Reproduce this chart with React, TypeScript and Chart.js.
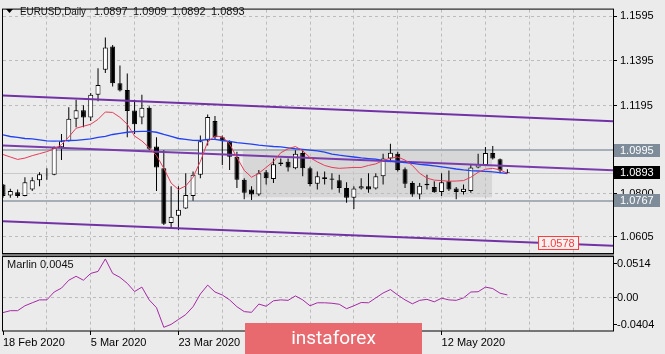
import React, { useEffect, useRef } from 'react';
import { Chart, registerables } from 'chart.js';
Chart.register(...registerables);

const TITLE_SYMBOL = 'EURUSD,Daily';
const TITLE_VALUES = ['1.0897', '1.0909', '1.0892', '1.0893'];
const INDICATOR_LABEL = 'Marlin 0.0045';
const LOGO_TEXT = 'instaforex';

const OPEN = [1.0840,1.0791,1.0806,1.0789,1.0818,1.0859,1.0884,1.0884,1.1008,1.1035,1.1136,1.1174,1.1141,1.1243,1.1356,1.1460,1.1295,1.1265,1.1173,1.1141,1.1185,1.1011,1.0913,1.0667,1.0700,1.0733,1.0789,1.0884,1.1038,1.1126,1.1053,1.1035,1.0965,1.0862,1.0818,1.0796,1.0895,1.0865,1.0939,1.0943,1.0913,1.0982,1.0913,1.0844,1.0873,1.0867,1.0859,1.0825,1.0781,1.0822,1.0833,1.0822,1.0877,1.0957,1.0979,1.0909,1.0847,1.0796,1.0844,1.0829,1.0807,1.0855,1.0822,1.0807,1.0811,1.0917,1.0928,1.0982,1.0954,1.0897];
const HIGH = [1.0843,1.0821,1.0818,1.0873,1.0873,1.0895,1.0913,1.1011,1.1067,1.1187,1.1221,1.1196,1.1251,1.1363,1.1500,1.1467,1.1375,1.1339,1.1221,1.1243,1.1192,1.1053,1.0994,1.0833,1.0833,1.0891,1.0899,1.1060,1.1155,1.1148,1.1060,1.1038,1.0987,1.0869,1.0833,1.0906,1.0906,1.0957,1.0957,1.0957,1.0994,1.0994,1.0920,1.0899,1.0899,1.0891,1.0884,1.0850,1.0833,1.0869,1.0891,1.0891,1.0979,1.1023,1.0987,1.0917,1.0855,1.0847,1.0884,1.0855,1.0891,1.0903,1.0829,1.0840,1.0928,1.0979,1.1009,1.1013,1.0957,1.0909];
const LOW = [1.0781,1.0781,1.0781,1.0788,1.0811,1.0833,1.0862,1.0882,1.0950,1.1034,1.1097,1.1097,1.1126,1.1214,1.1341,1.1280,1.1258,1.1053,1.1067,1.1111,1.0994,1.0811,1.0659,1.0642,1.0635,1.0730,1.0767,1.0869,1.1016,1.1045,1.0928,1.0906,1.0825,1.0774,1.0771,1.0789,1.0840,1.0847,1.0923,1.0899,1.0909,1.0877,1.0833,1.0818,1.0840,1.0818,1.0803,1.0759,1.0730,1.0818,1.0803,1.0818,1.0840,1.0942,1.0899,1.0825,1.0785,1.0774,1.0818,1.0803,1.0789,1.0811,1.0774,1.0796,1.0803,1.0913,1.0923,1.0953,1.0891,1.0892];
const CLOSE = [1.0789,1.0811,1.0789,1.0850,1.0859,1.0887,1.0882,1.1005,1.1035,1.1136,1.1174,1.1141,1.1243,1.1287,1.1456,1.1295,1.1262,1.1170,1.1111,1.1185,1.1001,1.0917,1.0664,1.0696,1.0727,1.0793,1.0884,1.1035,1.1143,1.1053,1.1035,1.0965,1.0862,1.0803,1.0796,1.0891,1.0869,1.0931,1.0932,1.0917,1.0979,1.0913,1.0843,1.0877,1.0865,1.0862,1.0825,1.0781,1.0822,1.0833,1.0818,1.0877,1.0957,1.0983,1.0906,1.0844,1.0796,1.0835,1.0837,1.0806,1.0850,1.0818,1.0807,1.0821,1.0917,1.0931,1.0982,1.0957,1.0903,1.0893];
const MA_FAST = [1.0975,1.0964,1.0953,1.0959,1.0970,1.0979,1.0988,1.1001,1.1019,1.1054,1.1093,1.1102,1.1111,1.1133,1.1166,1.1164,1.1142,1.1111,1.1058,1.1036,1.1005,1.0970,1.0913,1.0847,1.0818,1.0834,1.0873,1.0944,1.1032,1.1058,1.1055,1.1023,1.0961,1.0904,1.0873,1.0891,1.0917,1.0944,1.0983,1.1001,1.1011,1.0992,1.0961,1.0942,1.0926,1.0917,1.0913,1.0915,1.0917,1.0917,1.0926,1.0933,1.0948,1.0959,1.0964,1.0950,1.0926,1.0891,1.0869,1.0860,1.0858,1.0855,1.0856,1.0858,1.0873,1.0895,1.0909,1.0913,1.0906,1.0891];
const MA_SLOW = [1.1063,1.1056,1.1052,1.1047,1.1045,1.1041,1.1036,1.1035,1.1036,1.1038,1.1039,1.1042,1.1045,1.1052,1.1057,1.1065,1.1070,1.1075,1.1078,1.1079,1.1079,1.1075,1.1065,1.1056,1.1047,1.1043,1.1039,1.1038,1.1043,1.1043,1.1038,1.1034,1.1028,1.1025,1.1022,1.1017,1.1014,1.1011,1.1009,1.1005,1.1001,1.0998,1.0995,1.0991,1.0986,1.0977,1.0972,1.0968,1.0964,1.0960,1.0957,1.0954,1.0948,1.0945,1.0942,1.0939,1.0935,1.0931,1.0928,1.0924,1.0920,1.0915,1.0910,1.0906,1.0903,1.0901,1.0899,1.0897,1.0894,1.0889];
const MARLIN = [-0.0222,-0.0193,-0.0193,-0.0119,-0.0074,-0.0030,-0.0030,0.0089,0.0148,0.0267,0.0326,0.0267,0.0370,0.0400,0.0588,0.0370,0.0310,0.0220,0.0096,0.0163,-0.0030,-0.0148,-0.0444,-0.0400,-0.0326,-0.0252,-0.0133,0.0059,0.0193,0.0089,0.0044,-0.0030,-0.0133,-0.0207,-0.0218,-0.0093,-0.0126,-0.0044,-0.0030,-0.0037,0.0030,-0.0030,-0.0119,-0.0074,-0.0074,-0.0081,-0.0096,-0.0163,-0.0119,-0.0070,-0.0074,0.0000,0.0074,0.0126,0.0044,-0.0030,-0.0089,-0.0037,-0.0022,-0.0059,-0.0004,-0.0030,-0.0037,0.0000,0.0089,0.0093,0.0163,0.0141,0.0070,0.0045];

const X_LABEL_BARS = [0, 12, 24, 36, 48, 60];
const X_LABELS = ['18 Feb 2020', '5 Mar 2020', '23 Mar 2020', '8 Apr 2020', '24 Apr 2020', '12 May 2020'];
const X_GRID_STEP = 6;
const X_MAX = 83.45;
const PRICE_TICKS = [1.1595, 1.1395, 1.1195, 1.0995, 1.08, 1.0605];
const PRICE_MIN = 1.05236;
const PRICE_MAX = 1.16258;
const MARLIN_TICKS = [0.0514, 0, -0.0404];
const MARLIN_TICK_LABELS = ['0.0514', '0.00', '-0.0404'];
const MARLIN_MIN = -0.05;
const MARLIN_MAX = 0.0647;

const CHANNEL_BARS = [0, 83.45];
const CHANNEL_UPPER = [1.1240, 1.1125];
const CHANNEL_MIDDLE = [1.1016, 1.0904];
const CHANNEL_LOWER = [1.0675, 1.0565];
const LEVEL_RESIST = 1.0995;
const LEVEL_SUPPORT = 1.0767;
const BID_PRICE = 1.0893;
const RANGE_BARS = [32.8, 66.9];
const RANGE_PRICES = [1.0995, 1.0783];
const CHANNEL_TAG_PRICE = 1.0578;
const CHANNEL_TAG_BAR = 78.8;

const BG = '#ebebeb';
const FONT = '"Liberation Sans", Arial, sans-serif';

const overlay = {
  id: 'overlay',
  beforeDraw(chart: any) {
    const { ctx, scales } = chart;
    const x = scales.x, y = scales.y;
    ctx.save();
    ctx.fillStyle = BG;
    ctx.fillRect(0, 0, chart.width, chart.height);
    const x1 = x.getPixelForValue(RANGE_BARS[0]);
    const x2 = x.getPixelForValue(RANGE_BARS[1]);
    const y1 = y.getPixelForValue(RANGE_PRICES[0]);
    const y2 = y.getPixelForValue(RANGE_PRICES[1]);
    ctx.fillStyle = '#d7d7d7';
    ctx.fillRect(x1, y1, x2 - x1, y2 - y1);
    ctx.restore();
  },
  beforeDatasetsDraw(chart: any) {
    const { ctx, scales, chartArea } = chart;
    const y = scales.y;
    ctx.save();
    const hline = (v: number, color: string, w: number) => {
      const py = Math.round(y.getPixelForValue(v)) + (w % 2 ? 0.5 : 0);
      ctx.strokeStyle = color;
      ctx.lineWidth = w;
      ctx.beginPath();
      ctx.moveTo(chartArea.left, py);
      ctx.lineTo(chartArea.right, py);
      ctx.stroke();
    };
    hline(BID_PRICE, '#c9c9c9', 1);
    hline(LEVEL_RESIST, '#a6afb8', 2);
    hline(LEVEL_SUPPORT, '#a6afb8', 2);
    ctx.restore();
  },
  afterDatasetsDraw(chart: any) {
    const { ctx, scales, chartArea } = chart;
    const x = scales.x, y = scales.y, y2 = scales.y2;
    ctx.save();
    const mainBottom = y.bottom;
    ctx.fillStyle = '#808080';
    ctx.fillRect(chartArea.left - 1, mainBottom - 2, chartArea.right - chartArea.left + 2, 3);
    ctx.strokeStyle = '#000';
    ctx.lineWidth = 1;
    ctx.strokeRect(chartArea.left - 0.5, chartArea.top - 0.5, chartArea.right - chartArea.left + 1, mainBottom - 2 - chartArea.top + 1);
    ctx.strokeRect(chartArea.left - 0.5, y2.top + 1.5, chartArea.right - chartArea.left + 1, chartArea.bottom - y2.top - 1.5);

    const tag = (v: number, bg: string, fg: string) => {
      const cy = y.getPixelForValue(v);
      ctx.fillStyle = bg;
      ctx.fillRect(chartArea.right + 1, Math.round(cy - 6.5), 46, 13);
      ctx.fillStyle = fg;
      ctx.font = '11px ' + FONT;
      ctx.textBaseline = 'middle';
      ctx.textAlign = 'left';
      ctx.fillText(v.toFixed(4), chartArea.right + 7, Math.round(cy - 6.5) + 7);
    };
    tag(LEVEL_RESIST, '#7e8c9a', '#ffffff');
    tag(BID_PRICE, '#000000', '#ffffff');
    tag(LEVEL_SUPPORT, '#7e8c9a', '#ffffff');

    const tx2 = x.getPixelForValue(CHANNEL_TAG_BAR);
    const tcy = y.getPixelForValue(CHANNEL_TAG_PRICE);
    ctx.fillStyle = '#f6f0f0';
    ctx.fillRect(tx2 - 41, Math.round(tcy - 7), 41, 14);
    ctx.strokeStyle = '#ff3b3b';
    ctx.strokeRect(tx2 - 40.5, Math.round(tcy - 7) + 0.5, 40, 13);
    ctx.fillStyle = '#ff3b3b';
    ctx.font = '11px ' + FONT;
    ctx.textBaseline = 'middle';
    ctx.textAlign = 'left';
    ctx.fillText(CHANNEL_TAG_PRICE.toFixed(4), tx2 - 38, Math.round(tcy - 7) + 7.5);

    // title
    ctx.fillStyle = '#000';
    ctx.beginPath();
    ctx.moveTo(6, 9);
    ctx.lineTo(13, 9);
    ctx.lineTo(9.5, 13);
    ctx.closePath();
    ctx.fill();
    ctx.font = '11px ' + FONT;
    ctx.textBaseline = 'middle';
    ctx.textAlign = 'left';
    ctx.fillStyle = '#111';
    ctx.fillText(TITLE_SYMBOL, 20, 12, 66);
    TITLE_VALUES.forEach((t, i) => ctx.fillText(t, 94 + i * 39, 12));
    ctx.fillText(INDICATOR_LABEL, 7, y2.top + 10);

    // logo
    ctx.fillStyle = '#e8696e';
    ctx.fillRect(245, 323, 177, 31);
    ctx.fillStyle = '#ffffff';
    ctx.font = '19px Roboto, "Open Sans", sans-serif';
    ctx.textAlign = 'center';
    ctx.textBaseline = 'alphabetic';
    ctx.fillText(LOGO_TEXT, 333.5, 344);
    ctx.restore();
  },
};

export default function App() {
  const ref = useRef<HTMLCanvasElement | null>(null);
  useEffect(() => {
    if (!ref.current) return;
    const idx = OPEN.map((_, i) => i);
    const wickData = idx.map((i) => ({ x: i, y: [LOW[i], HIGH[i]] }));
    const bodyData = idx.map((i) => ({ x: i, y: [Math.min(OPEN[i], CLOSE[i]), Math.max(OPEN[i], CLOSE[i])] }));
    const bodyColors = idx.map((i) => (CLOSE[i] >= OPEN[i] ? '#ffffff' : '#000000'));
    const line = (xs: number[], ys: number[]) => xs.map((v, i) => ({ x: v, y: ys[i] }));

    const chart = new Chart(ref.current, {
      type: 'bar',
      data: {
        datasets: [
          { type: 'line', label: 'fast', data: line(idx, MA_FAST), borderColor: '#e63c5a', borderWidth: 1, pointRadius: 0, tension: 0, order: 1, yAxisID: 'y' } as any,
          { type: 'line', label: 'slow', data: line(idx, MA_SLOW), borderColor: '#2141f5', borderWidth: 1.3, pointRadius: 0, tension: 0, order: 1, yAxisID: 'y' } as any,
          { type: 'line', label: 'up', data: line(CHANNEL_BARS, CHANNEL_UPPER), borderColor: '#7232a6', borderWidth: 2, pointRadius: 0, order: 2, yAxisID: 'y' } as any,
          { type: 'line', label: 'mid', data: line(CHANNEL_BARS, CHANNEL_MIDDLE), borderColor: '#7a3cac', borderWidth: 2, pointRadius: 0, order: 2, yAxisID: 'y' } as any,
          { type: 'line', label: 'low', data: line(CHANNEL_BARS, CHANNEL_LOWER), borderColor: '#7232a6', borderWidth: 2, pointRadius: 0, order: 2, yAxisID: 'y' } as any,
          { type: 'bar', label: 'body', data: bodyData, backgroundColor: bodyColors, borderColor: '#000', borderWidth: 1, borderSkipped: false, barThickness: 5, grouped: false, inflateAmount: 0, order: 3, yAxisID: 'y' } as any,
          { type: 'bar', label: 'wick', data: wickData, backgroundColor: '#000', borderWidth: 0, barThickness: 1, grouped: false, inflateAmount: 0, order: 4, yAxisID: 'y' } as any,
          { type: 'line', label: 'marlin', data: line(idx, MARLIN), borderColor: '#a52aa5', borderWidth: 1, pointRadius: 0, tension: 0, order: 1, yAxisID: 'y2' } as any,
        ],
      },
      options: {
        animation: false,
        responsive: false,
        maintainAspectRatio: false,
        devicePixelRatio: 1,
        events: [],
        layout: { padding: { left: 3, top: 3, right: 0, bottom: 0 } },
        plugins: { legend: { display: false }, tooltip: { enabled: false } },
        scales: {
          x: {
            type: 'linear',
            min: 0,
            max: X_MAX,
            offset: false,
            afterBuildTicks: (s: any) => {
              const t = [];
              for (let v = 0; v <= X_MAX; v += X_GRID_STEP) t.push({ value: v });
              s.ticks = t;
            },
            afterFit: (s: any) => { s.height = 23; },
            grid: {
              offset: false,
              color: (c: any) => (c.tick && c.tick.value > 0 ? '#bcbcbc' : 'rgba(0,0,0,0)'),
              tickColor: (c: any) => (c.tick && X_LABEL_BARS.indexOf(c.tick.value) >= 0 ? '#000' : 'rgba(0,0,0,0)'),
              tickLength: 4,
              tickBorderDash: [],
              lineWidth: 1,
            },
            border: { display: false, dash: [3, 3] },
            ticks: {
              autoSkip: false,
              maxRotation: 0,
              minRotation: 0,
              align: 'start',
              padding: 1,
              color: '#000',
              font: { family: FONT, size: 11 },
              callback: (v: any) => {
                const k = X_LABEL_BARS.indexOf(Number(v));
                return k >= 0 ? X_LABELS[k] : '';
              },
            },
          } as any,
          y: {
            type: 'linear',
            position: 'right',
            stack: 'panels',
            stackWeight: 250.5,
            min: PRICE_MIN,
            max: PRICE_MAX,
            afterBuildTicks: (s: any) => { s.ticks = PRICE_TICKS.map((v) => ({ value: v })); },
            afterFit: (s: any) => { s.width = 52; },
            grid: { color: '#bcbcbc', tickColor: '#000', tickLength: 4, tickBorderDash: [] },
            border: { display: false, dash: [3, 3] },
            ticks: { padding: 3, color: '#000', font: { family: FONT, size: 11 }, callback: (v: any) => Number(v).toFixed(4) },
          } as any,
          y2: {
            type: 'linear',
            position: 'right',
            stack: 'panels',
            stackWeight: 77.5,
            min: MARLIN_MIN,
            max: MARLIN_MAX,
            afterBuildTicks: (s: any) => { s.ticks = MARLIN_TICKS.map((v) => ({ value: v })); },
            afterFit: (s: any) => { s.width = 52; },
            grid: {
              color: (c: any) => (c.tick && c.tick.value === 0 ? '#bcbcbc' : 'rgba(0,0,0,0)'),
              tickColor: '#000',
              tickLength: 4,
              tickBorderDash: [],
            },
            border: { display: false, dash: [3, 3] },
            ticks: {
              padding: 0,
              color: '#000',
              font: { family: FONT, size: 11 },
              callback: (v: any) => {
                const k = MARLIN_TICKS.indexOf(Number(v));
                return k >= 0 ? MARLIN_TICK_LABELS[k] : '';
              },
            },
          } as any,
        },
      },
      plugins: [overlay],
    });
    return () => chart.destroy();
  }, []);

  return (
    <div style={{ position: 'fixed', left: 0, top: 0, width: 665, height: 354, background: BG }}>
      <canvas ref={ref} width={665} height={354} style={{ width: 665, height: 354, display: 'block' }} />
    </div>
  );
}
